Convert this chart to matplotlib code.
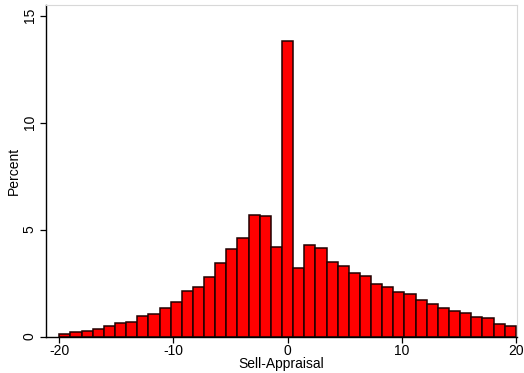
import numpy as np
import matplotlib
matplotlib.use("Agg")
import matplotlib.pyplot as plt

# histogram of Sell-Appraisal, 41 bins over [-20, 20]
bin_lo, bin_hi, n_bins = -20, 20, 41
percent = [
    0.13, 0.20, 0.27, 0.34, 0.48, 0.62, 0.66, 0.94, 1.04, 1.32,
    1.60, 2.13, 2.33, 2.77, 3.42, 4.07, 4.62, 5.66, 5.63, 4.20,
    13.82,
    3.19, 4.26, 4.15, 3.50, 3.28, 2.95, 2.84, 2.47, 2.30, 2.07,
    1.97, 1.71, 1.53, 1.35, 1.21, 1.08, 0.90, 0.85, 0.60, 0.48,
]
xticks = [-20, -10, 0, 10, 20]
yticks = [0, 5, 10, 15]

plt.rcParams["font.family"] = ["Liberation Sans", "DejaVu Sans"]
plt.rcParams["axes.unicode_minus"] = False

W, H = 524, 373
fig = plt.figure(figsize=(W / 100, H / 100), dpi=100)
ax = fig.add_axes([45.7 / W, (H - 336.5) / H, (517 - 45.7) / W, (336.5 - 5) / H])

edges = np.linspace(bin_lo, bin_hi, n_bins + 1)
width = edges[1] - edges[0]
ax.bar(edges[:-1], percent, width=width, align="edge",
       color="#ff0000", edgecolor="#200000", linewidth=1.1)

ax.set_xlim(-21.19, 20.1)
ax.set_ylim(0, 15.5)
ax.set_xticks(xticks)
ax.set_yticks(yticks)
ax.set_yticklabels([str(t) for t in yticks], rotation=90, va="center")
ax.tick_params(direction="out", length=4, width=0.9, labelsize=10, colors="black")
ax.tick_params(axis="x", pad=1.5)
ax.tick_params(axis="y", pad=2.5)

for side in ("top", "right"):
    ax.spines[side].set_color("#d8d8d8")
    ax.spines[side].set_linewidth(0.8)
for side in ("left", "bottom"):
    ax.spines[side].set_color("black")
    ax.spines[side].set_linewidth(1.0)

ax.set_xlabel("Sell-Appraisal", fontsize=10, labelpad=-0.5)
ax.set_ylabel("Percent", fontsize=10, labelpad=1)

fig.savefig("out.png", dpi=100)
